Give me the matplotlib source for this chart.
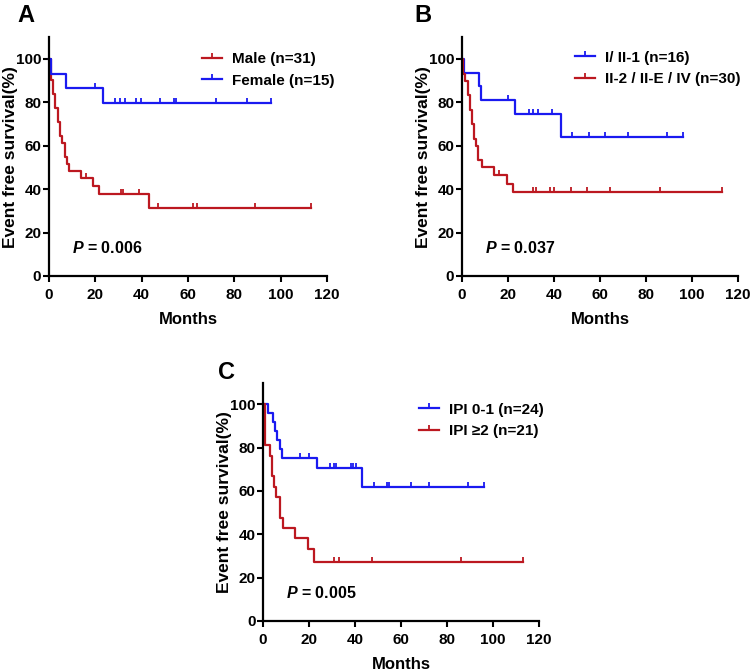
import matplotlib
matplotlib.use('Agg')
import matplotlib.pyplot as plt
from matplotlib.lines import Line2D
import numpy as np

plt.rcParams['font.family'] = ['Liberation Sans', 'DejaVu Sans']
plt.rcParams['font.weight'] = 'bold'
plt.rcParams['axes.labelweight'] = 'bold'
plt.rcParams['mathtext.fontset'] = 'custom'
plt.rcParams['mathtext.it'] = 'Liberation Sans:italic:bold'
plt.rcParams['mathtext.rm'] = 'Liberation Sans:bold'

RED = '#bc1820'
BLUE = '#1a1af0'

# panel A: sex
male_t = [0, 0.7, 1.7, 2.7, 3.9, 4.9, 5.7, 6.8, 7.6, 8.6, 14, 19, 21.6, 43]
male_s = [100, 90.3, 83.9, 77.4, 71.0, 64.5, 61.3, 54.8, 51.6, 48.4, 45.2, 41.7, 37.6, 31.3]
male_cens = [16, 31, 32, 39, 47, 62, 64, 89, 113]

female_t = [0, 1.0, 7.2, 23.2]
female_s = [100, 93.3, 86.7, 79.6]
female_cens = [20, 28.6, 30.5, 32.7, 37.7, 39.9, 47.8, 54, 54.7, 72, 85.6, 96]

# panel B: stage
early_t = [0, 1.0, 7.2, 8.1, 23.2, 43.1]
early_s = [100, 93.75, 87.5, 81.25, 74.5, 63.9]
early_cens = [20, 29.2, 30.9, 33, 39, 48, 55, 62, 72, 89.2, 96]

late_t = [0, 0.4, 1.5, 2.5, 3.5, 4.3, 5.2, 5.9, 6.8, 8.5, 14, 19.4, 22]
late_s = [100, 93.3, 90, 83.3, 76.7, 70, 63.3, 60, 53.3, 50, 46.7, 42.6, 38.9]
late_cens = [16, 31, 32, 38.3, 40, 47.3, 54.5, 64.3, 86, 113]

# panel C: IPI
ipi_low_t = [0, 2.2, 4.3, 5.3, 6.2, 7.2, 8.2, 23.3, 43.2]
ipi_low_s = [100, 95.8, 91.7, 87.5, 83.3, 79.2, 75, 70.5, 61.7]
ipi_low_cens = [16.2, 20.2, 29.2, 31, 31.8, 38.3, 39.3, 40.3, 48.3, 54, 54.8, 64.2, 72, 89.2, 96]

ipi_high_t = [0, 0.7, 2.9, 3.7, 4.6, 5.5, 7.2, 8.9, 14, 19.4, 22.3]
ipi_high_s = [100, 81.0, 76.2, 66.7, 61.9, 57.1, 47.6, 42.9, 38.1, 33.3, 27.2]
ipi_high_cens = [31, 33, 47.3, 86, 113]

# upward-only censor tick
tick_marker = [(0, 0), (0, 1)]


def km(ax, t, s, cens, color):
    end = max(cens[-1], t[-1])
    x = np.append(t, end)
    y = np.append(s, s[-1])
    ax.step(x, y, where='post', color=color, lw=1.6, clip_on=False)
    idx = np.searchsorted(t, cens, side='right') - 1
    ax.plot(cens, np.array(s)[idx], linestyle='None', marker=tick_marker,
            markersize=7, markeredgewidth=1.3, color=color, clip_on=False)


def style(ax, pval):
    for side in ['top', 'right']:
        ax.spines[side].set_visible(False)
    for side in ['left', 'bottom']:
        ax.spines[side].set_linewidth(1.6)
    ax.set_xlim(0, 120)
    ax.set_ylim(0, 110)
    ax.set_xticks(np.arange(0, 121, 20))
    ax.set_yticks(np.arange(0, 101, 20))
    ax.tick_params(axis='both', direction='out', length=4, width=1.5, labelsize=11)
    ax.tick_params(axis='x', pad=5)
    ax.tick_params(axis='y', pad=1.5)
    ax.set_xlabel('Months', fontsize=12, fontweight='bold')
    ax.set_ylabel('Event free survival(%)', fontsize=12.5, fontweight='bold')
    ax.xaxis.set_label_coords(0.5, -0.15)
    ax.yaxis.set_label_coords(-0.112, 0.5)
    ax.text(10, 13, r'$P$ = ' + pval, fontsize=11.5, va='center', fontweight='bold')


def legend(ax, labels, colors, x, y):
    handles = [Line2D([], [], color=c, lw=1.6, marker=tick_marker, markersize=7,
                      markeredgewidth=1.3) for c in colors]
    ax.legend(handles, labels, loc='center left', bbox_to_anchor=(x, y),
              frameon=False, handlelength=1.3, handletextpad=0.65,
              labelspacing=0.5, borderpad=0, borderaxespad=0,
              prop={'family': 'Liberation Sans', 'weight': 'bold', 'size': 11})


fig = plt.figure(figsize=(7.5, 6.72), dpi=100)
axA = fig.add_axes([0.0653, 0.5893, 0.3707, 0.3552])
axB = fig.add_axes([0.616, 0.5893, 0.368, 0.3552])
axC = fig.add_axes([0.3507, 0.0759, 0.368, 0.3548])

km(axA, male_t, male_s, male_cens, RED)
km(axA, female_t, female_s, female_cens, BLUE)
style(axA, '0.006')
legend(axA, ['Male (n=31)', 'Female (n=15)'], [RED, BLUE], 0.55, 0.863)

km(axB, early_t, early_s, early_cens, BLUE)
km(axB, late_t, late_s, late_cens, RED)
style(axB, '0.037')
legend(axB, ['I/ II-1 (n=16)', 'II-2 / II-E / IV (n=30)'], [BLUE, RED], 0.41, 0.869)

km(axC, ipi_low_t, ipi_low_s, ipi_low_cens, BLUE)
km(axC, ipi_high_t, ipi_high_s, ipi_high_cens, RED)
style(axC, '0.005')
legend(axC, ['IPI 0-1 (n=24)', 'IPI \u22652 (n=21)'], [BLUE, RED], 0.565, 0.841)

fig.text(0.035, 0.977, 'A', fontsize=17, va='center', ha='center')
fig.text(0.564, 0.977, 'B', fontsize=17, va='center', ha='center')
fig.text(0.302, 0.446, 'C', fontsize=17, va='center', ha='center')

fig.savefig('out.png', dpi=100)
